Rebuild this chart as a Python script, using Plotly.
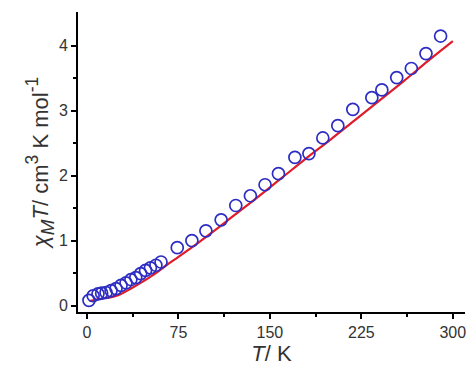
import plotly.graph_objects as go

# Experimental data (open circles)
T_exp = [1.6, 5, 9, 12, 15.6, 19.7, 23.8, 27.9, 32, 36, 40, 44, 48, 52, 56.5, 60.7,
         74, 86, 97.5, 110, 122, 134, 146, 157, 170.5, 182, 193.4, 205.7, 218, 233.6,
         241.8, 254, 266, 278, 290]
chiT_exp = [0.08, 0.15, 0.18, 0.19, 0.20, 0.23, 0.26, 0.31, 0.35, 0.40, 0.43, 0.49, 0.54,
            0.58, 0.62, 0.67, 0.89, 1.00, 1.15, 1.32, 1.54, 1.69, 1.86, 2.03, 2.28, 2.34,
            2.58, 2.77, 3.02, 3.20, 3.32, 3.51, 3.65, 3.88, 4.15]

# Fitted curve (red line)
T_fit = [2, 10, 20, 27, 35, 45, 55, 65, 75, 90, 105, 120, 140, 160, 180, 200, 220,
         240, 260, 280, 300]
chiT_fit = [0.07, 0.10, 0.13, 0.17, 0.25, 0.36, 0.48, 0.62, 0.75, 0.95, 1.16, 1.38,
            1.67, 1.97, 2.27, 2.56, 2.86, 3.16, 3.46, 3.77, 4.07]

x_ticks = [0, 75, 150, 225, 300]
y_ticks = [0, 1, 2, 3, 4]

fig = go.Figure()
fig.add_trace(go.Scatter(x=T_fit, y=chiT_fit, mode="lines",
                         line=dict(color="rgb(222,28,42)", width=2.2, shape="spline"),
                         showlegend=False))
fig.add_trace(go.Scatter(x=T_exp, y=chiT_exp, mode="markers",
                         marker=dict(symbol="circle-open", size=12,
                                     color="rgb(45,45,195)", line=dict(width=1.7)),
                         showlegend=False))

font_family = "Liberation Sans, Arial, sans-serif"
y_title = ("<i>χ</i><span style='font-size:27px'><sub><i>M</i></sub></span>"
           "<i>T</i>/ cm<span style='font-size:25px'><sup>3</sup></span> K mol"
           "<span style='font-size:25px'><sup>-1</sup></span>")
fig.update_layout(
    width=473, height=370,
    margin=dict(l=78, r=8, t=12, b=58),
    plot_bgcolor="white", paper_bgcolor="white",
    font=dict(family=font_family, color="#333333", size=16),
    xaxis=dict(range=[-7.4, 310], tickvals=x_ticks, ticks="outside", ticklen=5,
               tickwidth=2, tickcolor="black", showline=True, linecolor="black",
               linewidth=2, showgrid=False, zeroline=False, automargin=False,
               minor=dict(tickvals=[37.5, 112.5, 187.5, 262.5], ticks="outside",
                          ticklen=3, tickwidth=2, tickcolor="black"),
               title=dict(text="<i>T</i>/ K", font=dict(size=22, color="#333333"),
                          standoff=4),
               tickfont=dict(size=16, color="#333333")),
    yaxis=dict(range=[-0.1, 4.52], tickvals=y_ticks, ticks="outside", ticklen=5,
               tickwidth=2, tickcolor="black", showline=True, linecolor="black",
               linewidth=2, showgrid=False, zeroline=False, automargin=False,
               minor=dict(tickvals=[0.5, 1.5, 2.5, 3.5], ticks="outside",
                          ticklen=3, tickwidth=2, tickcolor="black"),
               title=dict(text=y_title, font=dict(size=22, color="#333333"), standoff=4),
               tickfont=dict(size=16, color="#333333")),
)

fig.write_html("out.html", config={"displayModeBar": False},
               post_script="document.body.style.margin='0px';document.body.style.padding='0px';")
